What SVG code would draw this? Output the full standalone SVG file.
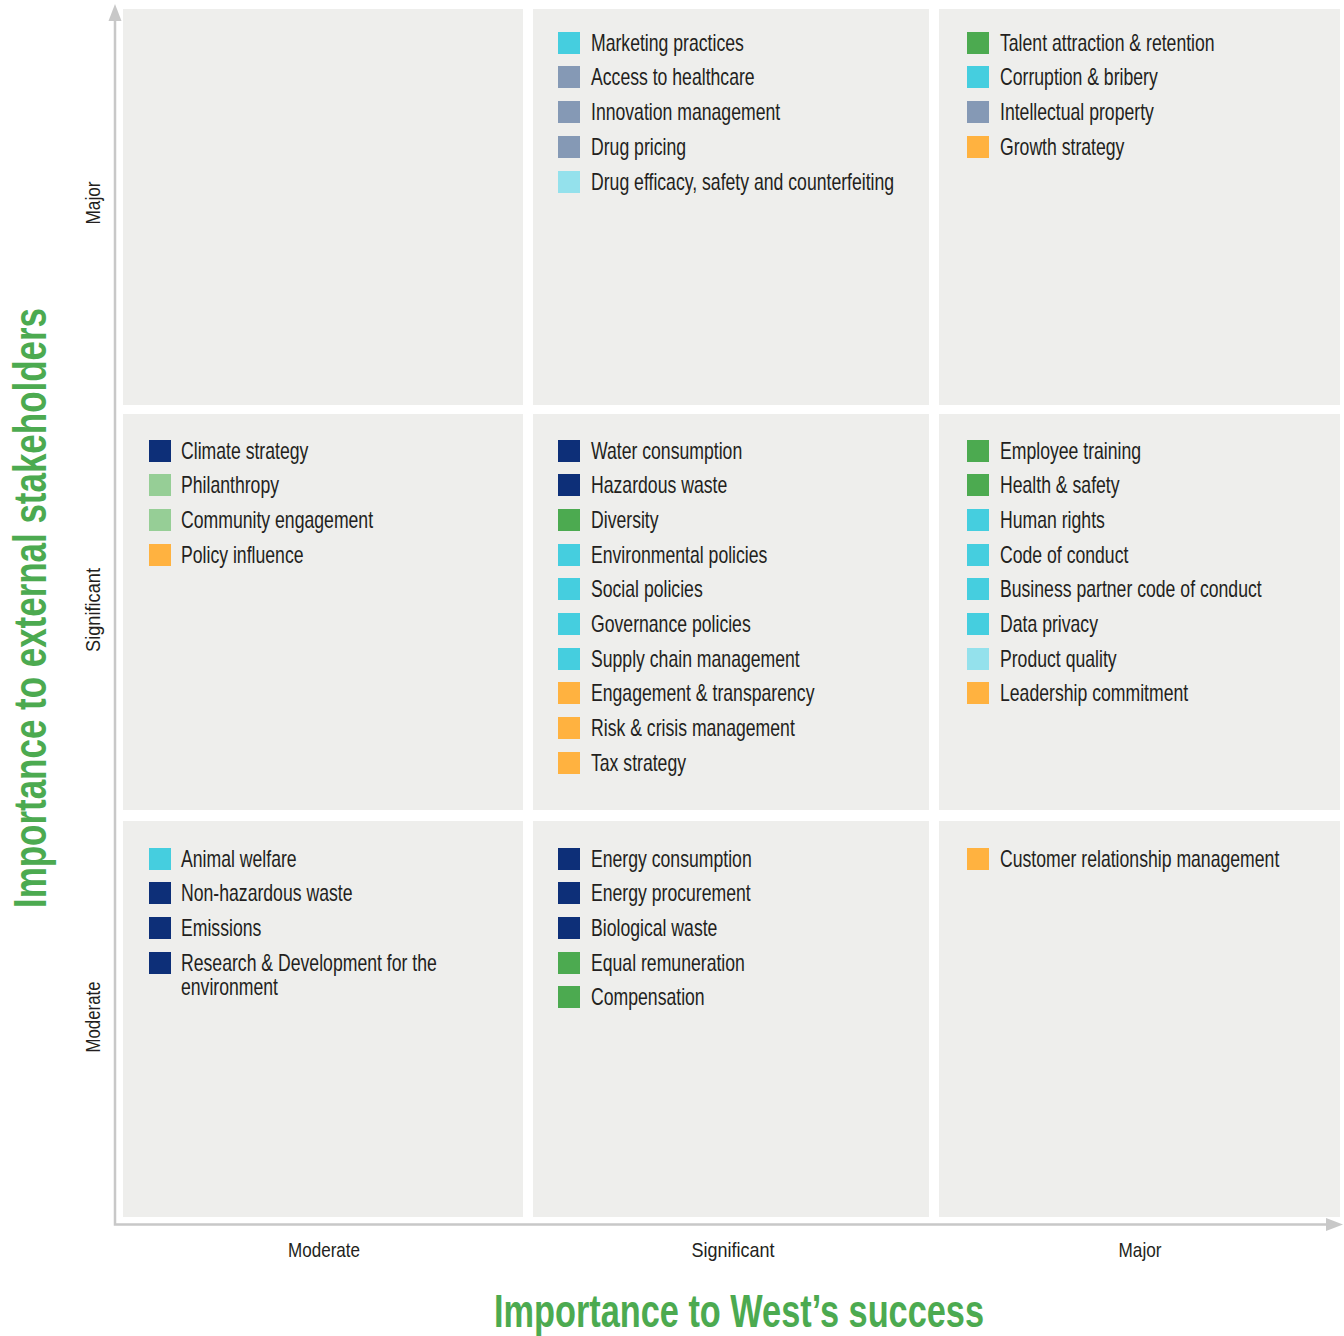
<svg xmlns="http://www.w3.org/2000/svg" width="1344" height="1336" viewBox="0 0 1344 1336">
  <style>
    .cell { fill: #EEEEEC; }
    .item { font-family: "Liberation Sans", Arial, sans-serif; font-size: 23px; fill: #231F20;
            transform-box: fill-box; transform-origin: left center; transform: scaleX(0.767); }
    .tick { font-family: "Liberation Sans", Arial, sans-serif; font-size: 21px; fill: #231F20; }
    .title { font-family: "Liberation Sans", Arial, sans-serif; font-weight: bold; font-size: 46px; fill: #4CAA50; }
    .axis { stroke: #C8C8C8; stroke-width: 2.5; fill: none; }
    .arrow { fill: #C8C8C8; }
    .env { fill: #0D2F78; }
    .soc { fill: #4CAA50; }
    .soc2 { fill: #96CE96; }
    .gov { fill: #45CEDF; }
    .gov2 { fill: #94E1EC; }
    .prod { fill: #8599B5; }
    .biz { fill: #FFB240; }
  </style>

  <!-- axes -->
  <g id="connectors">
    <path class="axis" d="M115 20 V1224.5 H1328"/>
    <polygon class="arrow" points="115,4 108.5,21 121.5,21"/>
    <polygon class="arrow" points="1343,1224.5 1326,1218 1326,1231"/>
  </g>

  <!-- axis titles and tick labels -->
  <g id="axis-labels">
    <text class="title" transform="translate(46 608) rotate(-90)" text-anchor="middle" textLength="600" lengthAdjust="spacingAndGlyphs">Importance to external stakeholders</text>
    <text class="title" x="739" y="1327" text-anchor="middle" textLength="490" lengthAdjust="spacingAndGlyphs">Importance to West’s success</text>
    <text class="tick" transform="translate(100 203) rotate(-90)" text-anchor="middle" textLength="43" lengthAdjust="spacingAndGlyphs">Major</text>
    <text class="tick" transform="translate(100 610) rotate(-90)" text-anchor="middle" textLength="84" lengthAdjust="spacingAndGlyphs">Significant</text>
    <text class="tick" transform="translate(100 1017) rotate(-90)" text-anchor="middle" textLength="71" lengthAdjust="spacingAndGlyphs">Moderate</text>
    <text class="tick" x="324" y="1257" text-anchor="middle" textLength="72" lengthAdjust="spacingAndGlyphs">Moderate</text>
    <text class="tick" x="733" y="1257" text-anchor="middle" textLength="83" lengthAdjust="spacingAndGlyphs">Significant</text>
    <text class="tick" x="1140" y="1257" text-anchor="middle" textLength="43" lengthAdjust="spacingAndGlyphs">Major</text>
  </g>

  <!-- top row: major importance to stakeholders -->
  <g id="cell-major-moderate">
    <rect class="cell" x="123" y="9" width="400" height="396"/>
  </g>
  <g id="cell-major-significant">
    <rect class="cell" x="533" y="9" width="396" height="396"/>
    <rect class="gov" x="558" y="32" width="22" height="22"/><text class="item" x="591" y="51.5">Marketing practices</text>
    <rect class="prod" x="558" y="66" width="22" height="22"/><text class="item" x="591" y="85.5">Access to healthcare</text>
    <rect class="prod" x="558" y="101" width="22" height="22"/><text class="item" x="591" y="120.5">Innovation management</text>
    <rect class="prod" x="558" y="136" width="22" height="22"/><text class="item" x="591" y="155.5">Drug pricing</text>
    <rect class="gov2" x="558" y="171" width="22" height="22"/><text class="item" x="591" y="190.5">Drug efficacy, safety and counterfeiting</text>
  </g>
  <g id="cell-major-major">
    <rect class="cell" x="939" y="9" width="401" height="396"/>
    <rect class="soc" x="967" y="32" width="22" height="22"/><text class="item" x="1000" y="51.5">Talent attraction &amp; retention</text>
    <rect class="gov" x="967" y="66" width="22" height="22"/><text class="item" x="1000" y="85.5">Corruption &amp; bribery</text>
    <rect class="prod" x="967" y="101" width="22" height="22"/><text class="item" x="1000" y="120.5">Intellectual property</text>
    <rect class="biz" x="967" y="136" width="22" height="22"/><text class="item" x="1000" y="155.5">Growth strategy</text>
  </g>

  <!-- middle row: significant importance to stakeholders -->
  <g id="cell-significant-moderate">
    <rect class="cell" x="123" y="414" width="400" height="396"/>
    <rect class="env" x="149" y="440" width="22" height="22"/><text class="item" x="181" y="459.5">Climate strategy</text>
    <rect class="soc2" x="149" y="474" width="22" height="22"/><text class="item" x="181" y="493.5">Philanthropy</text>
    <rect class="soc2" x="149" y="509" width="22" height="22"/><text class="item" x="181" y="528.5">Community engagement</text>
    <rect class="biz" x="149" y="544" width="22" height="22"/><text class="item" x="181" y="563.5">Policy influence</text>
  </g>
  <g id="cell-significant-significant">
    <rect class="cell" x="533" y="414" width="396" height="396"/>
    <rect class="env" x="558" y="440" width="22" height="22"/><text class="item" x="591" y="459.5">Water consumption</text>
    <rect class="env" x="558" y="474" width="22" height="22"/><text class="item" x="591" y="493.5">Hazardous waste</text>
    <rect class="soc" x="558" y="509" width="22" height="22"/><text class="item" x="591" y="528.5">Diversity</text>
    <rect class="gov" x="558" y="544" width="22" height="22"/><text class="item" x="591" y="563.5">Environmental policies</text>
    <rect class="gov" x="558" y="578" width="22" height="22"/><text class="item" x="591" y="597.5">Social policies</text>
    <rect class="gov" x="558" y="613" width="22" height="22"/><text class="item" x="591" y="632.5">Governance policies</text>
    <rect class="gov" x="558" y="648" width="22" height="22"/><text class="item" x="591" y="667.5">Supply chain management</text>
    <rect class="biz" x="558" y="682" width="22" height="22"/><text class="item" x="591" y="701.5">Engagement &amp; transparency</text>
    <rect class="biz" x="558" y="717" width="22" height="22"/><text class="item" x="591" y="736.5">Risk &amp; crisis management</text>
    <rect class="biz" x="558" y="752" width="22" height="22"/><text class="item" x="591" y="771.5">Tax strategy</text>
  </g>
  <g id="cell-significant-major">
    <rect class="cell" x="939" y="414" width="401" height="396"/>
    <rect class="soc" x="967" y="440" width="22" height="22"/><text class="item" x="1000" y="459.5">Employee training</text>
    <rect class="soc" x="967" y="474" width="22" height="22"/><text class="item" x="1000" y="493.5">Health &amp; safety</text>
    <rect class="gov" x="967" y="509" width="22" height="22"/><text class="item" x="1000" y="528.5">Human rights</text>
    <rect class="gov" x="967" y="544" width="22" height="22"/><text class="item" x="1000" y="563.5">Code of conduct</text>
    <rect class="gov" x="967" y="578" width="22" height="22"/><text class="item" x="1000" y="597.5">Business partner code of conduct</text>
    <rect class="gov" x="967" y="613" width="22" height="22"/><text class="item" x="1000" y="632.5">Data privacy</text>
    <rect class="gov2" x="967" y="648" width="22" height="22"/><text class="item" x="1000" y="667.5">Product quality</text>
    <rect class="biz" x="967" y="682" width="22" height="22"/><text class="item" x="1000" y="701.5">Leadership commitment</text>
  </g>

  <!-- bottom row: moderate importance to stakeholders -->
  <g id="cell-moderate-moderate">
    <rect class="cell" x="123" y="821" width="400" height="396"/>
    <rect class="gov" x="149" y="848" width="22" height="22"/><text class="item" x="181" y="867.5">Animal welfare</text>
    <rect class="env" x="149" y="882" width="22" height="22"/><text class="item" x="181" y="901.5">Non-hazardous waste</text>
    <rect class="env" x="149" y="917" width="22" height="22"/><text class="item" x="181" y="936.5">Emissions</text>
    <rect class="env" x="149" y="952" width="22" height="22"/><text class="item" x="181" y="971.5">Research &amp; Development for the</text>
    <text class="item" x="181" y="995.5">environment</text>
  </g>
  <g id="cell-moderate-significant">
    <rect class="cell" x="533" y="821" width="396" height="396"/>
    <rect class="env" x="558" y="848" width="22" height="22"/><text class="item" x="591" y="867.5">Energy consumption</text>
    <rect class="env" x="558" y="882" width="22" height="22"/><text class="item" x="591" y="901.5">Energy procurement</text>
    <rect class="env" x="558" y="917" width="22" height="22"/><text class="item" x="591" y="936.5">Biological waste</text>
    <rect class="soc" x="558" y="952" width="22" height="22"/><text class="item" x="591" y="971.5">Equal remuneration</text>
    <rect class="soc" x="558" y="986" width="22" height="22"/><text class="item" x="591" y="1005.5">Compensation</text>
  </g>
  <g id="cell-moderate-major">
    <rect class="cell" x="939" y="821" width="401" height="396"/>
    <rect class="biz" x="967" y="848" width="22" height="22"/><text class="item" x="1000" y="867.5">Customer relationship management</text>
  </g>
</svg>
